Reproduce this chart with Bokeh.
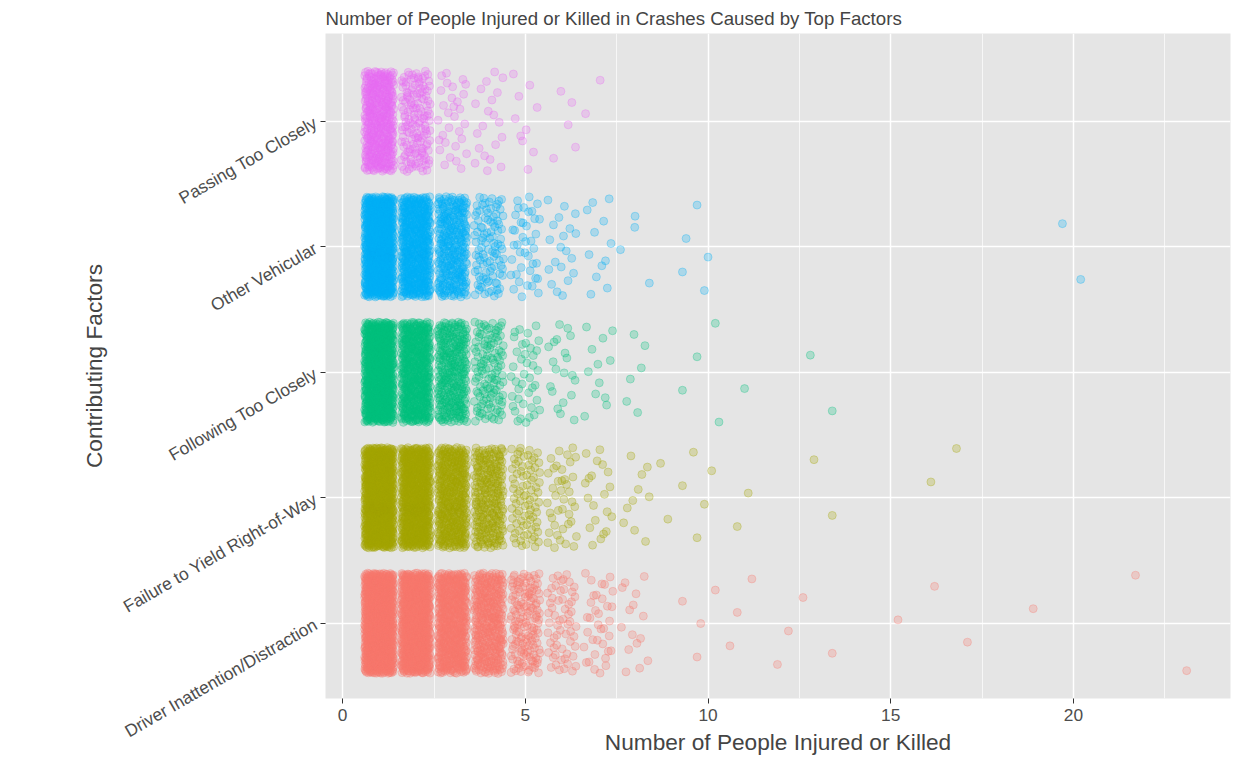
import math
from bokeh.plotting import figure
from bokeh.models import FixedTicker, ColumnDataSource
from bokeh.embed import file_html
from bokeh.resources import INLINE

factors = ["Driver Inattention/Distraction", "Failure to Yield Right-of-Way",
           "Following Too Closely", "Other Vehicular", "Passing Too Closely"]
colors = ["#F8766D", "#A3A500", "#00BF7D", "#00B0F6", "#E76BF3"]

# crash counts per injured/killed value (1..8) for each factor
values = [1, 2, 3, 4, 5, 6, 7, 8]
counts_driver = [900, 700, 500, 350, 150, 60, 35, 15]
counts_yield = [800, 600, 400, 250, 80, 40, 20, 10]
counts_following = [700, 500, 300, 120, 40, 20, 12, 6]
counts_other = [700, 500, 300, 100, 40, 20, 12, 4]
counts_passing = [400, 150, 30, 20, 10, 5, 2, 0]
counts = [counts_driver, counts_yield, counts_following, counts_other, counts_passing]

# individual large crashes (jittered x)
out_driver = [9.3, 9.7, 9.8, 10.2, 10.6, 10.8, 11.2, 11.9, 12.2, 12.6, 13.4,
              15.2, 16.2, 17.1, 18.9, 21.7, 23.1]
out_yield = [8.7, 8.9, 9.3, 9.6, 9.7, 9.9, 10.1, 10.8, 11.1, 12.9, 13.4, 16.1, 16.8]
out_following = [9.3, 9.7, 10.2, 10.3, 11.0, 12.8, 13.4]
out_other = [9.3, 9.4, 9.7, 9.9, 10.0, 19.7, 20.2]
out_passing = []
outliers = [out_driver, out_yield, out_following, out_other, out_passing]


def halton(i, b):
    f, r = 1.0, 0.0
    while i > 0:
        f /= b
        r += f * (i % b)
        i //= b
    return r


p = figure(width=1236, height=757, x_range=(-0.47, 24.3), y_range=(0.4, 5.7),
           output_backend="svg", toolbar_location=None,
           title="Number of People Injured or Killed in Crashes Caused by Top Factors",
           x_axis_label="Number of People Injured or Killed",
           y_axis_label="Contributing Factors", min_border_left=325,
           min_border_top=8, min_border_right=6)

k = 1
for ci in range(5):
    xs, ys = [], []
    for v, n in zip(values, counts[ci]):
        for _ in range(n):
            xs.append(v + (halton(k, 2) - 0.5) * 0.8)
            ys.append(ci + 1 + (halton(k, 3) - 0.5) * 0.8)
            k += 1
    for x in outliers[ci]:
        xs.append(x)
        ys.append(ci + 1 + (halton(k, 3) - 0.5) * 0.8)
        k += 1
    src = ColumnDataSource(dict(x=xs, y=ys))
    p.scatter("x", "y", source=src, size=8, fill_color=colors[ci], fill_alpha=0.25,
              line_color=colors[ci], line_alpha=0.3)

p.background_fill_color = "#E5E5E5"
p.outline_line_color = None
p.border_fill_color = "white"
p.xgrid.grid_line_color = "white"
p.ygrid.grid_line_color = "white"
p.xgrid.grid_line_width = 1.5
p.ygrid.grid_line_width = 1.5
p.xgrid.minor_grid_line_color = "white"
p.xgrid.minor_grid_line_width = 0.7
p.xaxis.ticker = FixedTicker(ticks=[0, 5, 10, 15, 20], minor_ticks=[2.5, 7.5, 12.5, 17.5, 22.5])
p.yaxis.ticker = FixedTicker(ticks=[1, 2, 3, 4, 5])
p.yaxis.major_label_overrides = {i + 1: f for i, f in enumerate(factors)}
p.yaxis.major_label_orientation = math.radians(30)
for ax in (p.xaxis, p.yaxis):
    ax.axis_line_color = None
    ax.minor_tick_line_color = None
    ax.major_tick_line_color = "#333333"
    ax.major_tick_in = 0
    ax.major_tick_out = 5
    ax.major_label_text_color = "#4D4D4D"
    ax.major_label_text_font = "Liberation Sans"
    ax.major_label_text_font_size = "13pt"
    ax.axis_label_text_font = "Liberation Sans"
    ax.axis_label_text_font_style = "normal"
    ax.axis_label_text_font_size = "17pt"
p.title.text_font = "Liberation Sans"
p.title.text_font_style = "normal"
p.title.text_font_size = "14pt"

open("out.html", "w").write(file_html(p, INLINE))
